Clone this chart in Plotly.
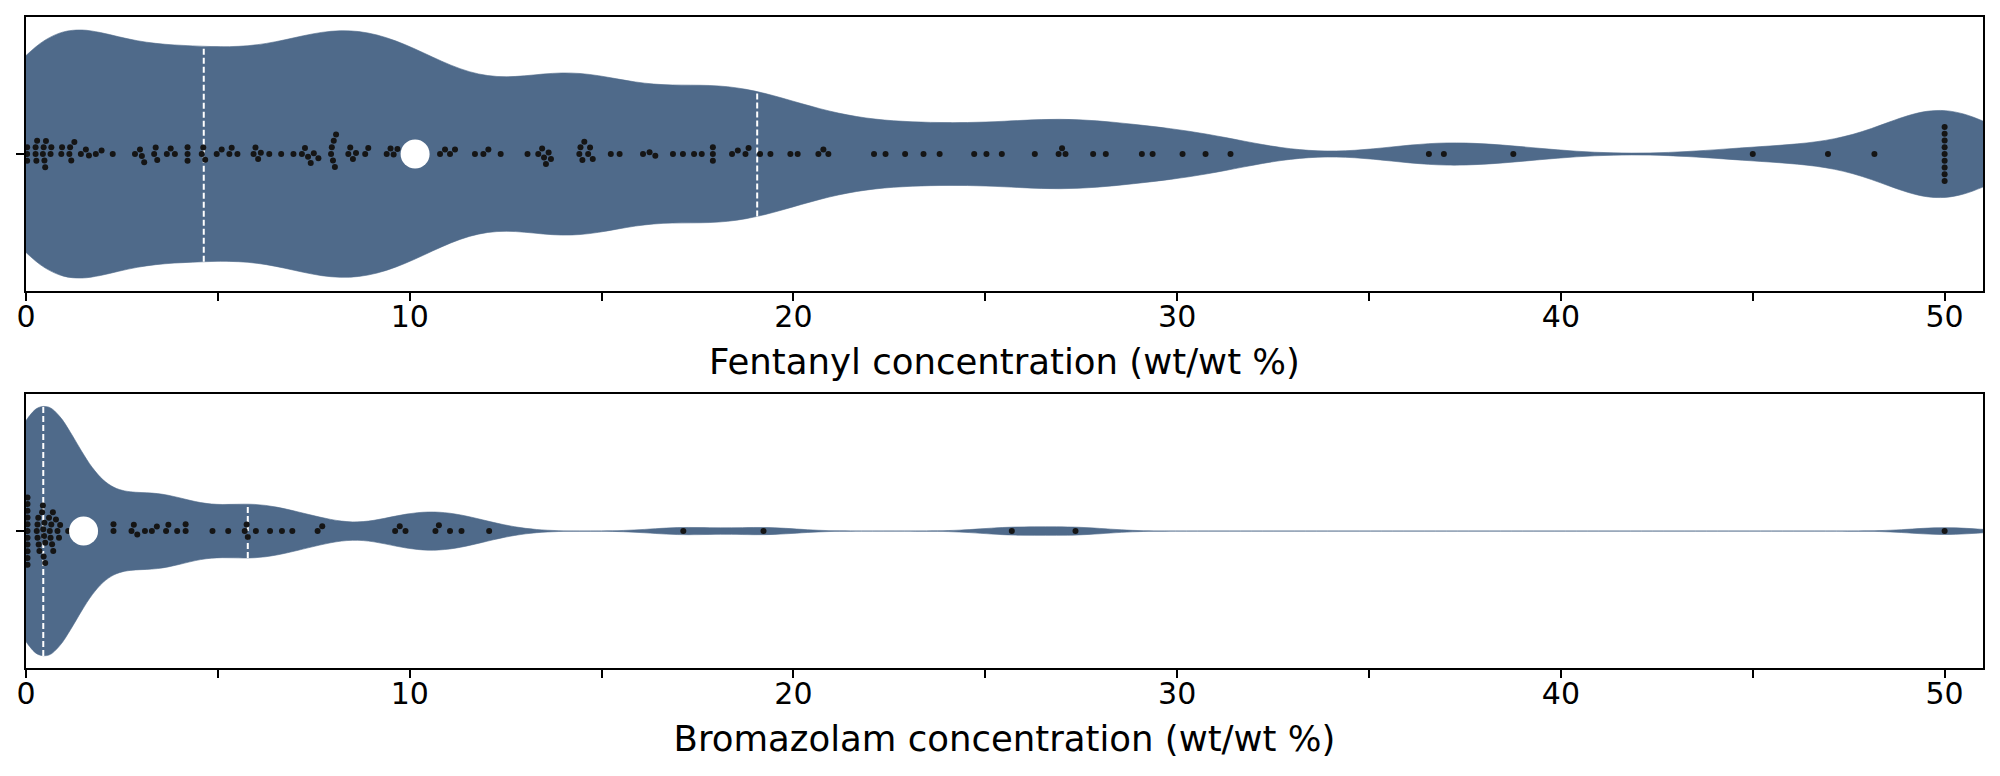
import numpy as np
import plotly.graph_objects as go
from plotly.subplots import make_subplots

# ---------------- data ----------------
# a few values sit under the white median marker (hidden in the reference)
fentanyl = [
    0.03, 0.03, 0.03,
    0.25, 0.25, 0.27, 0.29,
    0.44, 0.46, 0.48, 0.5, 0.52,
    0.64, 0.66,
    0.92, 0.94,
    1.13, 1.15, 1.18, 1.26, 1.43, 1.56, 1.64, 1.82, 1.97, 2.26,
    2.84, 2.97, 3.02, 3.08, 3.34, 3.38, 3.42, 3.67, 3.77, 3.88,
    4.21, 4.21, 4.21, 4.58, 4.62, 4.67,
    4.97, 5.1, 5.3, 5.36, 5.51,
    5.93, 5.98, 6.05, 6.12, 6.34, 6.65, 6.97,
    7.19, 7.27, 7.35, 7.42, 7.5, 7.62,
    7.95, 7.97, 8.0, 8.02, 8.05, 8.08,
    8.4, 8.45, 8.52, 8.6, 8.84, 8.92,
    9.4, 9.5, 9.58, 9.68,
    9.85, 9.95, 10.0, 10.05, 10.1, 10.18, 10.25,
    10.79, 10.92, 11.05, 11.18, 11.7, 11.92, 12.05, 12.37, 13.07,
    13.35, 13.45, 13.5, 13.55, 13.62, 13.68,
    14.42, 14.45, 14.5, 14.55, 14.65, 14.7, 14.77,
    15.24, 15.47, 16.08, 16.25, 16.4, 16.86, 17.12, 17.41, 17.61,
    17.9, 17.9, 17.9, 18.4, 18.55, 18.75, 18.83,
    19.13, 19.4, 19.92, 20.11, 20.65, 20.78, 20.91,
    22.1, 22.4, 22.91, 23.39, 23.81, 24.71, 25.03, 25.43,
    26.29, 26.91, 27.0, 27.09, 27.81, 28.14, 29.08, 29.36,
    30.14, 30.74, 31.39,
    36.56, 36.95, 38.76, 45.0, 46.96, 48.17,
    50.0, 50.0, 50.0, 50.0, 50.0, 50.0, 50.0, 50.0, 50.0,
]

bromazolam = [
    0.04, 0.04, 0.04, 0.04, 0.04, 0.04, 0.04, 0.04, 0.04, 0.04, 0.04,
    0.28, 0.3, 0.3, 0.32, 0.33, 0.35,
    0.42, 0.44, 0.45, 0.46, 0.47, 0.48, 0.5, 0.5,
    0.6, 0.62, 0.64, 0.66, 0.68, 0.7, 0.71,
    0.78, 0.82, 0.86, 0.89, 1.1,
    1.4, 1.5, 1.6,
    2.28, 2.28, 2.75, 2.81, 2.9, 3.1, 3.28, 3.41, 3.65, 3.71, 3.94,
    4.16, 4.16, 4.86, 5.27, 5.7, 5.75, 5.78, 5.99, 6.36, 6.67, 6.94,
    7.6, 7.72, 9.62, 9.74, 9.89, 10.67, 10.76, 11.05, 11.35, 12.07,
    17.13, 19.22, 25.69, 27.35, 50.0,
]

x_labels = ["Fentanyl concentration (wt/wt %)", "Bromazolam concentration (wt/wt %)"]
tick_vals = [0, 5, 10, 15, 20, 25, 30, 35, 40, 45, 50]
tick_text = ["0", "", "10", "", "20", "", "30", "", "40", "", "50"]
bandwidths = [1.45, 0.85]

# ---------------- styling ----------------
VIOLIN_COLOR = "#4f6a8a"
POINT_COLOR = "#151515"
X_RANGE = [0, 51]
Y_RANGE = [-0.5, 0.5]
VIOLIN_WIDTH = 0.905
FONT = "DejaVu Sans"

OFF = 8  # default page body margin
W, H = 2000 - OFF, 776 - OFF
ML, MR, MT, MB = 26 - OFF, 17, 16.6 - OFF, 108
plot_w = W - ML - MR
plot_h = H - MT - MB
top_dom = [(776 - MB - 290.8) / plot_h, 1.0]
bot_dom = [0.0, (776 - MB - 394) / plot_h]
px_per_x = plot_w / (X_RANGE[1] - X_RANGE[0])
px_per_y = (top_dom[1] - top_dom[0]) * plot_h / (Y_RANGE[1] - Y_RANGE[0])
DOT = 6.75  # swarm spacing in px


def swarm_offsets(vals, d=DOT):
    vals = np.asarray(vals, float)
    order = np.argsort(vals, kind="stable")
    placed = []
    out = np.zeros(len(vals))
    for i in order:
        x = vals[i] * px_per_x
        neigh = [(px, py) for px, py in placed if abs(px - x) < d]
        cands = [0.0]
        for px, py in neigh:
            dy = np.sqrt(max(d * d - (px - x) ** 2, 0.0))
            cands += [py + dy, py - dy]
        cands = sorted(set(cands), key=lambda c: (abs(c), -c))
        chosen = cands[-1]
        for c in cands:
            if all((px - x) ** 2 + (py - c) ** 2 >= d * d - 1e-6 for px, py in neigh):
                chosen = c
                break
        placed.append((x, chosen))
        out[i] = chosen / px_per_y
    return out


def kde_half_width(vals, bw, at):
    vals = np.asarray(vals, float)
    lo, hi = vals.min() - 2 * bw, vals.max() + 2 * bw
    n = int(np.ceil((hi - lo) / (bw / 3)))
    grid = np.linspace(lo, hi, n + 1)
    dens = lambda t: np.exp(-0.5 * ((t - vals[None, :]) / bw) ** 2).sum(axis=1)
    kmax = dens(grid[:, None]).max()
    return dens(np.array([[at]]))[0] / kmax * VIOLIN_WIDTH / 2


fig = make_subplots(rows=2, cols=1, vertical_spacing=0.05)

for row, (data, bw) in enumerate(zip([fentanyl, bromazolam], bandwidths), start=1):
    fig.add_trace(go.Violin(
        x=data, y0=0, orientation="h", width=VIOLIN_WIDTH, bandwidth=bw,
        spanmode="soft", scalemode="width", side="both", points=False,
        fillcolor=VIOLIN_COLOR, line=dict(width=0.6, color=VIOLIN_COLOR),
        opacity=1, hoverinfo="skip", showlegend=False,
    ), row=row, col=1)
    q1, med, q3 = np.percentile(data, [25, 50, 75])
    for q in (q1, q3):
        h = kde_half_width(data, bw, q)
        fig.add_trace(go.Scatter(
            x=[q, q], y=[-h, h], mode="lines",
            line=dict(color="white", width=2, dash="6px,3px"),
            hoverinfo="skip", showlegend=False,
        ), row=row, col=1)
    fig.add_trace(go.Scatter(
        x=data, y=swarm_offsets(data), mode="markers",
        marker=dict(color=POINT_COLOR, size=6, line=dict(width=0)),
        hoverinfo="x", showlegend=False,
    ), row=row, col=1)
    fig.add_trace(go.Scatter(
        x=[med], y=[0], mode="markers",
        marker=dict(color="white", size=29, line=dict(width=0)),
        hoverinfo="x", showlegend=False,
    ), row=row, col=1)

axis_common = dict(showline=True, mirror=True, linecolor="black", linewidth=1.5,
                   showgrid=False, zeroline=False, ticks="outside", ticklen=8,
                   tickwidth=1.5, tickcolor="black", automargin=False)

for row, label in enumerate(x_labels, start=1):
    fig.update_xaxes(range=X_RANGE, tickvals=tick_vals, ticktext=tick_text,
                     tickfont=dict(family=FONT, size=30, color="black"),
                     ticklabelstandoff=-10,
                     title=dict(text=label, font=dict(family=FONT, size=35.5, color="black"),
                                standoff=16),
                     row=row, col=1, **axis_common)
    fig.update_yaxes(range=Y_RANGE, tickvals=[0], ticktext=[""], row=row, col=1, **axis_common)

fig.update_layout(
    width=W, height=H,
    margin=dict(l=ML, r=MR, t=MT, b=MB),
    paper_bgcolor="white", plot_bgcolor="white",
    font=dict(family=FONT, color="black"),
    yaxis=dict(domain=top_dom), yaxis2=dict(domain=bot_dom),
    showlegend=False,
)

fig.write_html("out.html")
